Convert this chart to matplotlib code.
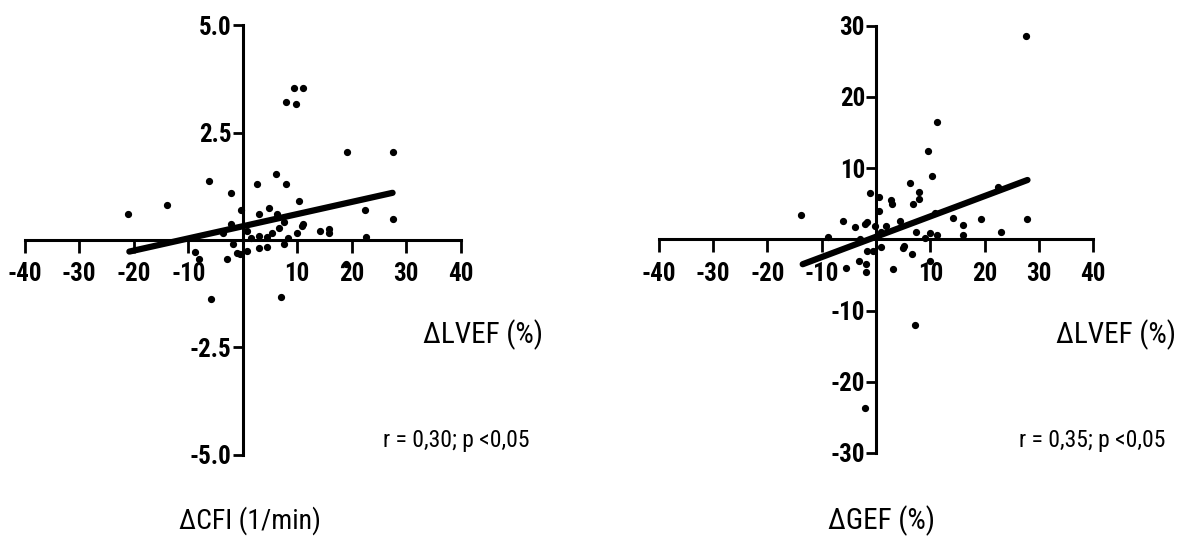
import matplotlib
matplotlib.use("Agg")
import matplotlib.pyplot as plt

plt.rcParams['font.family'] = ['Liberation Sans Narrow', 'Roboto Condensed', 'DejaVu Sans']
plt.rcParams['font.stretch'] = 'condensed'

# left panel: dLVEF (%) vs dCFI (1/min)
cfi_x = [-21.1, -13.8, -6.1, -2.1, -2.1, -3.6, -0.3, 2.7, 6.2, 7.9, 7.9, 9.5, 11.1, 9.8,
         19.2, 27.5, 27.5, 22.4, 22.7, 10.3, 4.8, 2.9, 6.3, 6.6, 7.6, 5.3, 2.9, 4.4, 1.6,
         0.7, 9.9, 10.8, 11.1, 14.2, 15.8, 15.8, 8.4, 7.5, 3.0, 4.4, -1.7, -1.0, -0.5,
         0.7, -8.8, -8.1, -2.9, -5.8, 7.0, 19.0]
cfi_y = [0.61, 0.81, 1.38, 1.10, 0.37, 0.16, 0.70, 1.30, 1.55, 1.30, 3.22, 3.54, 3.54, 3.18,
         2.04, 2.04, 0.48, 0.70, 0.08, 0.90, 0.75, 0.60, 0.60, 0.27, 0.41, 0.16, 0.09, 0.08, 0.04,
         0.20, 0.17, 0.33, 0.37, 0.21, 0.25, 0.16, 0.04, -0.09, -0.18, -0.16, -0.09, -0.30, -0.33,
         -0.26, -0.28, -0.45, -0.45, -1.38, -1.32, -0.55]
cfi_fit_x = [-20.8, 27.5]
cfi_fit_y = [-0.27, 1.10]

# right panel: dLVEF (%) vs dGEF (%)
gef_x = [-13.8, -8.8, -6.1, -5.6, -3.8, -3.1, -2.9, -2.0, -1.7, -1.8, -1.8, -1.6, -0.5,
         -1.1, -0.1, 0.5, 0.6, 0.9, 1.0, 1.8, 2.8, 2.9, 3.2, 4.5, 5.2, 5.0, 6.3, 6.7, 6.9,
         7.4, 7.9, 7.9, 9.6, 9.9, 9.9, 10.4, 9.0, 11.2, 11.2, 10.9, 14.2, 16.0, 16.0, 19.4,
         22.5, 23.0, 27.9, 7.2, 27.6, -2.0]
gef_y = [3.42, 0.28, 2.62, -4.07, 1.78, -3.04, 0.10, 2.15, 2.43, -3.46, -4.54, -1.6, -1.6,
         6.55, 1.87, 6.0, 3.98, -1.03, 1.08, 1.87, 5.5, 4.96, -4.2, 2.62, -0.9, -1.2, 7.96,
         -2.06, 4.96, 0.98, 6.6, 5.6, 12.45, 0.94, -3.04, 8.94, 0.14, 16.5, 0.6, 3.65, 2.95,
         2.0, 0.66, 2.8, 7.3, 0.98, 2.8, -12.0, 28.5, -23.7]
gef_fit_x = [-13.5, 27.9]
gef_fit_y = [-3.5, 8.33]

x_ticks = [-40, -30, -20, -10, 10, 20, 30, 40]
cfi_yticks = [5.0, 2.5, -2.5, -5.0]
gef_yticks = [30, 20, 10, -10, -20, -30]

W, H = 1183, 539
fig = plt.figure(figsize=(W / 100, H / 100), dpi=100)

tick_font = dict(fontweight='heavy', fontsize=18)


def quad_axes(rect, ylim, yticks, ylabels):
    ax = fig.add_axes(rect)
    ax.set_xlim(-40, 40)
    ax.set_ylim(*ylim)
    for s in ['top', 'right']:
        ax.spines[s].set_visible(False)
    for s in ['left', 'bottom']:
        ax.spines[s].set_position(('data', 0))
        ax.spines[s].set_linewidth(2.2)
    ax.set_xticks(x_ticks)
    ax.set_xticklabels([str(t) for t in x_ticks], **tick_font)
    ax.set_yticks(yticks)
    ax.set_yticklabels(ylabels, **tick_font)
    ax.tick_params(axis='x', direction='out', length=9, width=2, pad=7)
    ax.tick_params(axis='y', direction='out', length=7, width=2, pad=1)
    ax.patch.set_visible(False)
    return ax


ax1 = quad_axes([24.7 / W, (H - 454.5) / H, 436 / W, 429 / H], (-5, 5),
                cfi_yticks, ['%.1f' % t for t in cfi_yticks])
ax1.plot(cfi_x, cfi_y, 'o', color='black', markersize=4.2, clip_on=False)
ax1.plot(cfi_fit_x, cfi_fit_y, color='black', linewidth=4.5, solid_capstyle='round')

ax2 = quad_axes([658.8 / W, (H - 452.9) / H, 434.4 / W, 427.2 / H], (-30, 30),
                gef_yticks, [str(t) for t in gef_yticks])
ax2.plot(gef_x, gef_y, 'o', color='black', markersize=4.2, clip_on=False)
ax2.plot(gef_fit_x, gef_fit_y, color='black', linewidth=4.5, solid_capstyle='round')


# labels placed in pixel space (x centre, baseline)
def ftext(px, py, s, size):
    fig.text(px / W, 1 - py / H, s, ha='center', va='baseline', fontsize=size)


ftext(483, 343, '\u0394LVEF (%)', 21)
ftext(1116, 343, '\u0394LVEF (%)', 21)
ftext(456, 447, 'r = 0,30; p <0,05', 17)
ftext(1092, 447, 'r = 0,35; p <0,05', 17)
ftext(250, 529, '\u0394CFI (1/min)', 20)
ftext(882, 529, '\u0394GEF (%)', 21)

fig.savefig('out.png', dpi=100)
